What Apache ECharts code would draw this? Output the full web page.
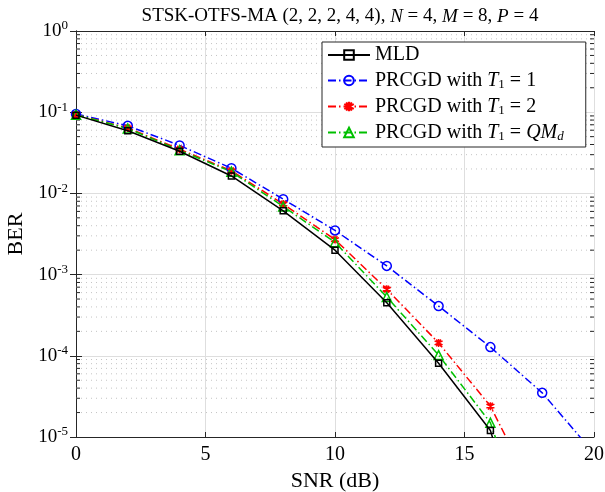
<!DOCTYPE html>
<html>
<head>
<meta charset="utf-8">
<script src="https://cdn.jsdelivr.net/npm/echarts@6/dist/echarts.min.js"></script>
<style>
  html, body { margin: 0; padding: 0; background: #fff; }
  #main { width: 605px; height: 492px; }
</style>
</head>
<body>
<div id="main"></div>
<script>
// SNR points (dB)
const snr = [0, 2, 4, 6, 8, 10, 12, 14, 16, 18, 20];

// BER curves (points below 1e-5 just carry the line out of the box)
const berMLD = [0.092, 0.059, 0.033, 0.0164, 0.0061, 0.0020, 4.5e-4, 8.1e-5, 1.2e-5, 1e-7];
const berT1 = [0.095, 0.068, 0.039, 0.0204, 0.0085, 0.0035, 1.28e-3, 4.1e-4, 1.28e-4, 3.5e-5, 6.3e-6];
const berT2 = [0.093, 0.064, 0.035, 0.019, 0.0074, 0.0027, 6.6e-4, 1.44e-4, 2.4e-5, 1.3e-6];
const berTQ = [0.093, 0.063, 0.034, 0.0185, 0.0069, 0.0025, 5.3e-4, 1.02e-4, 1.5e-5, 2e-7];

// minor log ticks 2..9 in every decade
const minorTicks = [];
for (let e = -5; e < 0; e++) {
  for (let k = 2; k <= 9; k++) minorTicks.push(k * Math.pow(10, e));
}

const pairs = (ys) => ys.map((y, i) => [snr[i], y]);

const axisColor = '#262626';
const font = 'Liberation Serif';
const dashDot = [8, 3, 1.5, 3];

const chart = echarts.init(document.getElementById('main'));

const legendNames = {
  'MLD': 'MLD',
  'T1=1': 'PRCGD with {i|T}{sub|1} = 1',
  'T1=2': 'PRCGD with {i|T}{sub|1} = 2',
  'T1=QMd': 'PRCGD with {i|T}{sub|1} = {i|QM}{isub|d}'
};

const option = {
  animation: false,
  backgroundColor: '#fff',
  title: {
    text: 'STSK-OTFS-MA (2, 2, 2, 4, 4), {i|N} = 4, {i|M} = 8, {i|P} = 4',
    left: 335,
    textAlign: 'center',
    top: 2,
    textStyle: {
      fontFamily: font, fontSize: 19, fontWeight: 'normal', color: '#000',
      rich: {
        i: { fontFamily: font, fontSize: 19, fontStyle: 'italic', color: '#000' }
      }
    }
  },
  grid: { left: 76, right: 11, top: 31, bottom: 55, outerBoundsMode: 'none' },
  legend: {
    data: ['MLD', 'T1=1', 'T1=2', 'T1=QMd'],
    orient: 'vertical',
    left: 322,
    top: 42,
    backgroundColor: '#fff',
    borderColor: axisColor,
    borderWidth: 1,
    borderRadius: 0,
    padding: [3, 22, 4, 5],
    itemGap: 5.5,
    itemWidth: 42,
    itemHeight: 12,
    formatter: (name) => legendNames[name],
    textStyle: {
      fontFamily: font, fontSize: 20, color: '#000', lineHeight: 20,
      rich: {
        i: { fontFamily: font, fontSize: 20, fontStyle: 'italic', color: '#000' },
        sub: { fontFamily: font, fontSize: 13, color: '#000', padding: [8, 0, 0, 0] },
        isub: { fontFamily: font, fontSize: 13, fontStyle: 'italic', color: '#000', padding: [8, 0, 0, 0] }
      }
    }
  },
  xAxis: [
    {
      type: 'value', min: 0, max: 20, interval: 5,
      name: 'SNR (dB)', nameLocation: 'middle', nameGap: 28,
      nameTextStyle: { fontFamily: font, fontSize: 22, color: '#000' },
      axisLine: { lineStyle: { color: axisColor, width: 1 } },
      axisTick: { inside: true, length: 5, lineStyle: { color: axisColor } },
      axisLabel: { fontFamily: font, fontSize: 20, color: '#000', margin: 8 },
      splitLine: { show: true, lineStyle: { color: '#dedede', width: 1 } }
    },
    {
      type: 'value', min: 0, max: 20, interval: 5, position: 'top',
      axisLine: { show: true, lineStyle: { color: axisColor, width: 1 } },
      axisTick: { show: true, inside: true, length: 5, lineStyle: { color: axisColor } },
      axisLabel: { show: false },
      splitLine: { show: false }
    }
  ],
  yAxis: [
    {
      type: 'log', logBase: 10, min: 1e-5, max: 1,
      name: 'BER', nameLocation: 'middle', nameGap: 40,
      nameTextStyle: { fontFamily: font, fontSize: 22, color: '#000' },
      axisLine: { show: true, lineStyle: { color: axisColor, width: 1 } },
      axisTick: { inside: true, length: 6, lineStyle: { color: axisColor } },
      axisLabel: {
        fontFamily: font, fontSize: 19, color: '#000', margin: 8,
        formatter: (v) => '10{sup|' + Math.round(Math.log10(v)) + '}',
        rich: {
          sup: { fontFamily: font, fontSize: 13, color: '#000', padding: [0, 0, 10, 0] }
        }
      },
      splitLine: { show: true, lineStyle: { color: '#dedede', width: 1 } }
    },
    {
      type: 'log', logBase: 10, min: 1e-5, max: 1, position: 'right',
      axisLine: { show: true, lineStyle: { color: axisColor, width: 1 } },
      axisTick: { show: true, inside: true, length: 6, lineStyle: { color: axisColor } },
      axisLabel: { show: false },
      splitLine: { show: false }
    }
  ],
  series: [
    {
      // minor grid + minor ticks of the log axis
      type: 'custom',
      silent: true,
      z: 1,
      data: minorTicks.map((v) => [0, v]),
      renderItem: (params, api) => {
        const v = api.value(1);
        const p0 = api.coord([0, v]);
        const p1 = api.coord([20, v]);
        const tickStyle = { stroke: axisColor, lineWidth: 1 };
        return {
          type: 'group',
          children: [
            { type: 'line', shape: { x1: p0[0], y1: p0[1], x2: p1[0], y2: p1[1] },
              style: { stroke: '#c4c4c4', lineWidth: 1, lineDash: [1, 4] } },
            { type: 'line', shape: { x1: p0[0], y1: p0[1], x2: p0[0] + 4, y2: p0[1] }, style: tickStyle },
            { type: 'line', shape: { x1: p1[0] - 4, y1: p1[1], x2: p1[0], y2: p1[1] }, style: tickStyle }
          ]
        };
      }
    },
    {
      name: 'MLD', type: 'line', data: pairs(berMLD), clip: true, z: 5,
      symbol: 'rect', symbolSize: 6,
      lineStyle: { color: '#000', width: 1.5 },
      itemStyle: { color: 'rgba(255,255,255,0)', borderColor: '#000', borderWidth: 1.5 }
    },
    {
      name: 'T1=1', type: 'line', data: pairs(berT1), clip: true, z: 4,
      symbol: 'circle', symbolSize: 9,
      lineStyle: { color: '#0000ff', width: 1.5, type: dashDot },
      itemStyle: { color: 'rgba(255,255,255,0)', borderColor: '#0000ff', borderWidth: 1.5 }
    },
    {
      name: 'T1=2', type: 'line', data: pairs(berT2), clip: true, z: 4,
      symbol: 'path://M0,-5L0,5M-4.33,-2.5L4.33,2.5M-4.33,2.5L4.33,-2.5M-2.5,-4.33L2.5,4.33M-2.5,4.33L2.5,-4.33', symbolSize: 8,
      lineStyle: { color: '#ff0000', width: 1.5, type: dashDot },
      itemStyle: { color: '#ff0000', borderColor: '#ff0000', borderWidth: 1.5 }
    },
    {
      name: 'T1=QMd', type: 'line', data: pairs(berTQ), clip: true, z: 4,
      symbol: 'triangle', symbolSize: 9,
      lineStyle: { color: '#00c000', width: 1.5, type: dashDot },
      itemStyle: { color: 'rgba(255,255,255,0)', borderColor: '#00c000', borderWidth: 1.5 }
    }
  ]
};

chart.setOption(option);
</script>
</body>
</html>
